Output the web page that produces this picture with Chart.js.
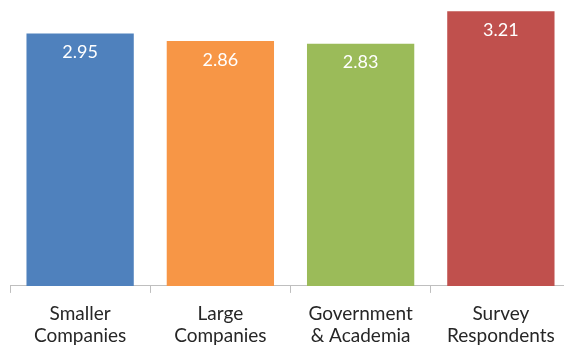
<!DOCTYPE html>
<html>
<head>
<meta charset="utf-8">
<script src="https://cdn.jsdelivr.net/npm/chart.js@4/dist/chart.umd.min.js"></script>
<style>
  html, body { margin: 0; padding: 0; background: #fff; overflow: hidden; }
  #wrap { width: 580px; height: 349px; }
</style>
</head>
<body>
<div id="wrap"><canvas id="chart"></canvas></div>
<script>
  // chart data
  const categories = [
    ["Smaller", "Companies"],
    ["Large", "Companies"],
    ["Government", "& Academia"],
    ["Survey", "Respondents"],
  ];
  const scores = [2.95, 2.86, 2.83, 3.21];
  const barColors = ["#4F81BD", "#F79646", "#9BBB59", "#C0504D"];

  // white value labels near the top of each bar
  const valueLabels = {
    id: "valueLabels",
    afterDatasetsDraw(chart) {
      const ctx = chart.ctx;
      const meta = chart.getDatasetMeta(0);
      ctx.save();
      ctx.font = "18px Lato";
      ctx.fillStyle = "#ffffff";
      ctx.textAlign = "center";
      ctx.textBaseline = "middle";
      meta.data.forEach((bar, i) => {
        ctx.fillText(scores[i].toFixed(2), bar.x, bar.y + 19);
      });
      ctx.restore();
    },
  };

  new Chart(document.getElementById("chart").getContext("2d"), {
    type: "bar",
    data: {
      labels: categories,
      datasets: [
        {
          data: scores,
          backgroundColor: barColors,
          borderWidth: 0,
          categoryPercentage: 1,
          barPercentage: 0.765,
        },
      ],
    },
    options: {
      responsive: true,
      maintainAspectRatio: false,
      animation: false,
      devicePixelRatio: 1,
      layout: { padding: { left: 10, right: 9, top: 0, bottom: -8 } },
      plugins: { legend: { display: false }, tooltip: { enabled: false } },
      scales: {
        y: { display: false, min: 0, max: 3.34 },
        x: {
          border: { display: true, color: "#bfbfbf", width: 1 },
          grid: { drawOnChartArea: false, drawTicks: true, tickLength: 7, color: "#bfbfbf", offset: true },
          ticks: { color: "#262626", font: { family: "Lato", size: 19, lineHeight: 1.16 }, padding: 10, maxRotation: 0 },
        },
      },
    },
    plugins: [valueLabels],
  });
</script>
</body>
</html>
